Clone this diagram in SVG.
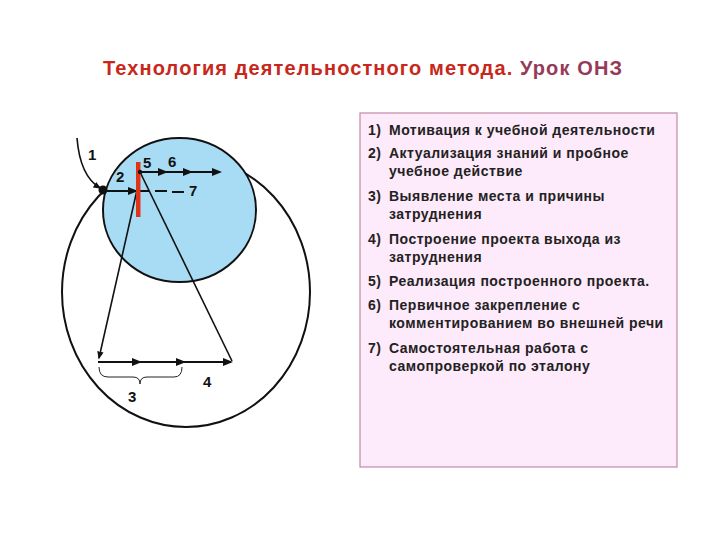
<svg xmlns="http://www.w3.org/2000/svg" width="720" height="540" viewBox="0 0 720 540">
<style>
.t{font-family:"Liberation Sans",Arial,sans-serif;font-weight:bold;}
.lst{font-size:14px;fill:#222;letter-spacing:0.5px;}
.num{font-size:15px;fill:#111;}
.ln{stroke:#111;stroke-width:2;fill:none;}
.thin{stroke:#111;stroke-width:1.6;fill:none;}
</style>
<defs>
<marker id="ah" viewBox="0 0 10 10" refX="8" refY="5" markerWidth="5" markerHeight="5" orient="auto" markerUnits="strokeWidth">
<path d="M0,1 L10,5 L0,9 Z" fill="#111"/>
</marker>
</defs>
<rect width="720" height="540" fill="#fff"/>
<text class="t" x="103" y="75" font-size="20" textLength="519" lengthAdjust="spacing"><tspan fill="#c8281c">Технология деятельностного метода.</tspan><tspan fill="#963a58"> Урок ОНЗ</tspan></text>

<g id="outer-circle"><ellipse cx="186" cy="292" rx="124" ry="135" fill="none" stroke="#111" stroke-width="2"/></g>
<g id="blue-circle"><ellipse cx="179.5" cy="210" rx="76.5" ry="72" fill="#a8dcf5" stroke="#111" stroke-width="2"/></g>

<g id="connectors">
<path class="thin" d="M77,138 Q80,176 100,188" marker-end="url(#ah)"/>
<line class="ln" x1="103" y1="191" x2="136" y2="191" marker-end="url(#ah)"/>
<line class="ln" x1="134" y1="191" x2="149" y2="191"/>
<line class="ln" x1="155" y1="191" x2="167" y2="191"/>
<line class="ln" x1="172" y1="192" x2="184" y2="192"/>
<line class="ln" x1="140" y1="172" x2="166" y2="172" marker-end="url(#ah)"/>
<line class="ln" x1="164" y1="172" x2="191" y2="172" marker-end="url(#ah)"/>
<line class="ln" x1="189" y1="172" x2="220" y2="172" marker-end="url(#ah)"/>
<line class="thin" x1="137" y1="190" x2="99" y2="358" marker-end="url(#ah)"/>
<line class="thin" x1="140" y1="172" x2="232" y2="361"/>
<line class="ln" x1="98" y1="362" x2="140" y2="362" marker-end="url(#ah)"/>
<line class="ln" x1="138" y1="362" x2="184" y2="362" marker-end="url(#ah)"/>
<line class="ln" x1="182" y1="362" x2="231" y2="362" marker-end="url(#ah)"/>
<path d="M99,367 Q99,377 108,377 L133,377 Q140,377 140,384 Q140,377 147,377 L174,377 Q182,377 182,367" fill="none" stroke="#222" stroke-width="1"/>
</g>

<g id="red-bar"><rect x="136" y="162" width="4.5" height="55" fill="#e0341a"/></g>
<g id="dot"><circle cx="103" cy="190" r="4.5" fill="#111"/><circle cx="140" cy="172" r="2.2" fill="#111"/></g>

<g id="labels">
<text class="t num" x="88" y="160">1</text>
<text class="t num" x="116" y="182">2</text>
<text class="t num" x="143" y="168">5</text>
<text class="t num" x="168" y="167">6</text>
<text class="t num" x="189" y="196">7</text>
<text class="t num" x="128" y="402">3</text>
<text class="t num" x="203" y="387">4</text>
</g>

<g id="steps">
<rect x="360" y="113" width="317" height="354" fill="#fdeafa" stroke="#c08aa8" stroke-width="1.2"/>
<text class="t lst" x="368" y="135">1)</text><text class="t lst" x="389" y="135">Мотивация к учебной деятельности</text>
<text class="t lst" x="368" y="158">2)</text><text class="t lst" x="389" y="158">Актуализация знаний и пробное</text>
<text class="t lst" x="389" y="176">учебное действие</text>
<text class="t lst" x="368" y="201">3)</text><text class="t lst" x="389" y="201">Выявление места и причины</text>
<text class="t lst" x="389" y="219">затруднения</text>
<text class="t lst" x="368" y="244">4)</text><text class="t lst" x="389" y="244">Построение проекта выхода из</text>
<text class="t lst" x="389" y="262">затруднения</text>
<text class="t lst" x="368" y="286">5)</text><text class="t lst" x="389" y="286">Реализация построенного проекта.</text>
<text class="t lst" x="368" y="310">6)</text><text class="t lst" x="389" y="310">Первичное закрепление с</text>
<text class="t lst" x="389" y="328">комментированием во внешней речи</text>
<text class="t lst" x="368" y="353">7)</text><text class="t lst" x="389" y="353">Самостоятельная работа с</text>
<text class="t lst" x="389" y="371">самопроверкой по эталону</text>
</g>
</svg>
